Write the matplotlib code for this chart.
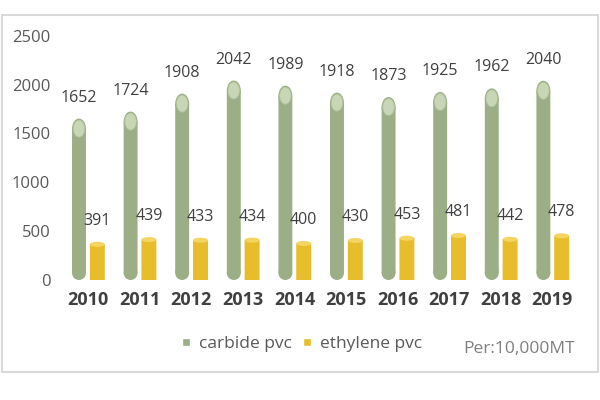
import matplotlib
matplotlib.use('Agg')
import matplotlib.pyplot as plt
import numpy as np
from matplotlib.patches import Ellipse, Rectangle
from matplotlib.lines import Line2D

years = ['2010', '2011', '2012', '2013', '2014', '2015', '2016', '2017', '2018', '2019']
carbide_pvc = [1652, 1724, 1908, 2042, 1989, 1918, 1873, 1925, 1962, 2040]
ethylene_pvc = [391, 439, 433, 434, 400, 430, 453, 481, 442, 478]

plt.rcParams['font.family'] = ['Open Sans', 'DejaVu Sans']

verde = '#9bae86'
verde_tapa = '#c8d6b6'
amarillo = '#e8bd2c'
amarillo_tapa = '#f5d561'

fig = plt.figure(figsize=(6, 4), dpi=100)
ax = fig.add_axes([0.1, 0.3, 0.88, 0.635])
ax.set_xlim(-0.543, 9.69)
ax.set_ylim(0, 2600)

# unidades de datos por pixel en y
upx = 2600 / 254.0

x = np.arange(len(years))
xg = x - 0.175
xa = x + 0.18
wg = 0.27
wa = 0.29
r = 7 * upx      # fondo redondeado
rt = 10 * upx    # tapa superior

# cilindros verdes (carburo)
for xi, v in zip(xg, carbide_pvc):
    ax.bar(xi, v - r - rt, bottom=r, width=wg, color=verde, linewidth=0,
           snap=False, zorder=2)
    ax.add_patch(Ellipse((xi, r), wg, 2 * r, facecolor=verde, linewidth=0, zorder=2))
    ax.add_patch(Ellipse((xi, v - rt), wg, 2 * rt, facecolor=verde, linewidth=0, zorder=2))
    ax.add_patch(Ellipse((xi, v - rt), 0.225, 17 * upx,
                         facecolor=verde_tapa, edgecolor='#b0c19c',
                         linewidth=0.6, zorder=3))
    ax.annotate(f'{v}', (xi, v), xytext=(0, 15), textcoords='offset points',
                ha='center', va='center', fontsize=11.5, color='#404040')

# cilindros amarillos (etileno)
ht = 5 * upx
for xi, v in zip(xa, ethylene_pvc):
    ax.bar(xi, v - ht / 2, width=wa, color=amarillo, linewidth=0,
           snap=False, zorder=2)
    ax.add_patch(Ellipse((xi, v - ht / 2), wa, ht, facecolor=amarillo_tapa,
                         linewidth=0, zorder=3))
    ax.annotate(f'{v}', (xi, v), xytext=(0, 15), textcoords='offset points',
                ha='center', va='center', fontsize=11.5, color='#404040')

ax.set_xticks(x)
ax.set_xticklabels(years, fontsize=13, fontweight='bold', color='#404040')
ax.set_yticks([0, 500, 1000, 1500, 2000, 2500])
ax.tick_params(axis='y', labelsize=12, labelcolor='#595959', length=0, pad=7)
ax.tick_params(axis='x', length=0, pad=8)
for s in ax.spines.values():
    s.set_visible(False)

# leyenda
handles = [Line2D([0], [0], marker='s', color='w', markerfacecolor=verde,
                  markersize=6, label='carbide pvc'),
           Line2D([0], [0], marker='s', color='w', markerfacecolor=amarillo,
                  markersize=6, label='ethylene pvc')]
leg = fig.legend(handles=handles, loc='center', bbox_to_anchor=(0.502, 1 - 344 / 400),
                 ncol=2, frameon=False, fontsize=12.5, handlelength=0.7,
                 handletextpad=0.4, columnspacing=0.5)
for t in leg.get_texts():
    t.set_color('#595959')

fig.text(575 / 600, 1 - 349 / 400, 'Per:10,000MT', ha='right', va='center',
         fontsize=12.5, color='#7f7f7f')

# marco del grafico
fig.patches.append(Rectangle((2 / 600, 1 - 372 / 400), 596 / 600, 357 / 400,
                             transform=fig.transFigure, fill=False,
                             edgecolor='#d9d9d9', linewidth=1.5))

plt.savefig('out.png', dpi=100, facecolor='white')
